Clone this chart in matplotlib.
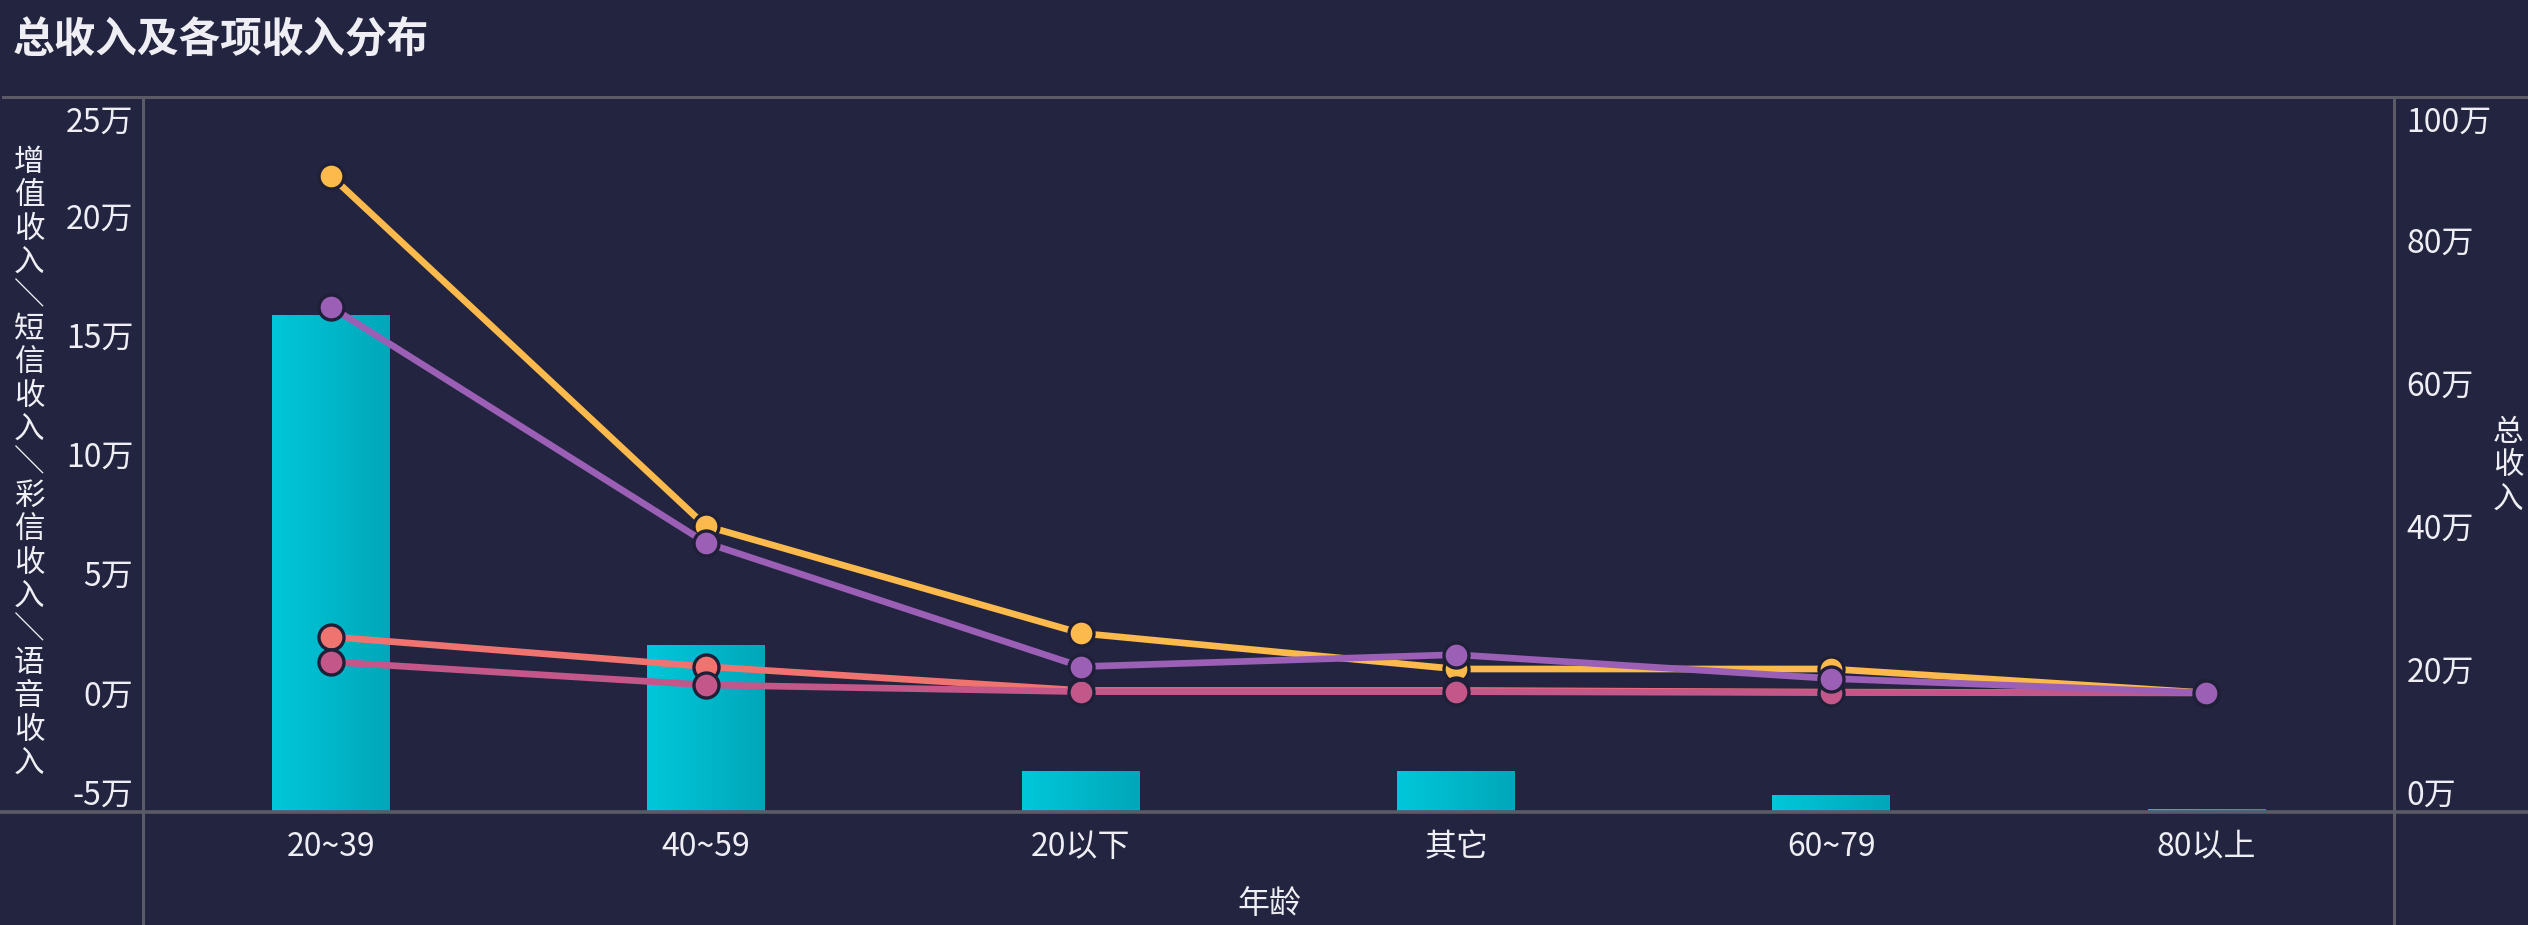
import numpy as np
import matplotlib
matplotlib.use('Agg')
import matplotlib.pyplot as plt
from matplotlib.lines import Line2D
from matplotlib.colors import LinearSegmentedColormap
from matplotlib.transforms import ScaledTranslation

plt.rcParams['font.family'] = ['Noto Sans CJK SC', 'DejaVu Sans']

# ---------------- data ----------------
categories = ['20~39', '40~59', '20以下', '其它', '60~79', '80以上']
total_income = [695000, 233000, 57000, 57000, 24000, 4500]      # 总收入 (right axis, bars)
vas_income = [217000, 70000, 25000, 10000, 10000, 0]            # 增值收入
sms_income = [23500, 11000, 1000, 1000, 300, 0]                 # 短信收入
mms_income = [13000, 3300, 500, 500, 100, 0]                    # 彩信收入
voice_income = [162000, 63000, 11000, 16000, 6000, 0]           # 语音收入

left_ticks = [-50000, 0, 50000, 100000, 150000, 200000, 250000]
right_ticks = [0, 200000, 400000, 600000, 800000, 1000000]

title = '总收入及各项收入分布'
left_name = '增值收入＼短信收入＼彩信收入＼语音收入'
right_name = '总收入'
x_name = '年龄'

# ---------------- style ----------------
BG = '#232540'
TXT = '#eeeef4'
GRID = '#5a5b66'
EDGE = '#1f2038'
C_VAS = '#fcb94c'
C_SMS = '#ef7470'
C_MMS = '#c4578a'
C_VOICE = '#9b5fb5'

W, H = 2528, 925
L, R, T, B = 143, 2394, 97, 812

fig = plt.figure(figsize=(W / 100, H / 100), dpi=100, facecolor=BG)
ax = fig.add_axes([L / W, 1 - B / H, (R - L) / W, (B - T) / H])
ax2 = ax.twinx()
ax.set_zorder(3)
ax.patch.set_visible(False)
ax2.patch.set_visible(False)

x = np.arange(len(categories))

# bars with horizontal gradient
cmap = LinearSegmentedColormap.from_list('bar', ['#00c7da', '#00a7b9'])
grad = np.linspace(0, 1, 256).reshape(1, -1)
bw = 0.314
bars = ax2.bar(x, total_income, width=bw, color='none', edgecolor='none', zorder=2)
for rect in bars:
    x0 = rect.get_x()
    h = rect.get_height()
    im = ax2.imshow(grad, extent=[x0, x0 + bw, 0, h], aspect='auto', cmap=cmap,
                    zorder=2, interpolation='bilinear')
    im.set_clip_path(rect)

# lines
for vals, col in [(vas_income, C_VAS), (sms_income, C_SMS),
                  (mms_income, C_MMS), (voice_income, C_VOICE)]:
    ax.plot(x, vals, color=col, lw=4.8, marker='o', ms=18, mfc=col,
            mec=EDGE, mew=2.4, solid_capstyle='round', zorder=3)

ax.set_xlim(-0.5, len(categories) - 0.5)
ax2.set_xlim(-0.5, len(categories) - 0.5)
ax.set_ylim(left_ticks[0], left_ticks[-1])
ax2.set_ylim(right_ticks[0], right_ticks[-1])

ax.set_yticks(left_ticks)
ax.set_yticklabels([f'{int(v / 10000)}万' for v in left_ticks])
ax2.set_yticks(right_ticks)
ax2.set_yticklabels([f'{int(v / 10000)}万' for v in right_ticks])
ax.set_xticks(x)
ax.set_xticklabels(categories)

ax.tick_params(axis='y', length=0, pad=7, labelsize=23, labelcolor=TXT)
ax2.tick_params(axis='y', length=0, pad=9, labelsize=23, labelcolor=TXT)
ax.tick_params(axis='x', length=0, pad=14, labelsize=23, labelcolor=TXT)

for a in (ax, ax2):
    for s in a.spines.values():
        s.set_visible(False)

down = ScaledTranslation(0, -10 / 100, fig.dpi_scale_trans)
for a in (ax, ax2):
    lab = a.get_yticklabels()
    lab[0].set_va('bottom')
    lab[-1].set_va('top')
    lab[-1].set_transform(lab[-1].get_transform() + down)

# frame lines
fig.add_artist(Line2D([3 / W, 1], [1 - T / H] * 2, color=GRID, lw=2.2, zorder=2))
fig.add_artist(Line2D([0, 1], [1 - B / H] * 2, color=GRID, lw=2.6, zorder=2))
fig.add_artist(Line2D([L / W] * 2, [0, 1 - T / H], color=GRID, lw=2.2, zorder=2))
fig.add_artist(Line2D([R / W] * 2, [0, 1 - T / H], color=GRID, lw=2.2, zorder=2))

# texts
fig.text(13 / W, 1 - 40 / H, title, fontsize=30, fontweight='bold', color=TXT,
         ha='left', va='center')
fig.text(29 / W, 1 - 463 / H, '\n'.join(left_name), fontsize=22, color=TXT,
         ha='center', va='center', linespacing=1.1)
fig.text(2508 / W, 1 - 466 / H, '\n'.join(right_name), fontsize=22, color=TXT,
         ha='center', va='center', linespacing=1.1)
fig.text(1269 / W, 1 - 904 / H, x_name, fontsize=23, color=TXT,
         ha='center', va='center')

fig.savefig('out.png', dpi=100, facecolor=BG)
